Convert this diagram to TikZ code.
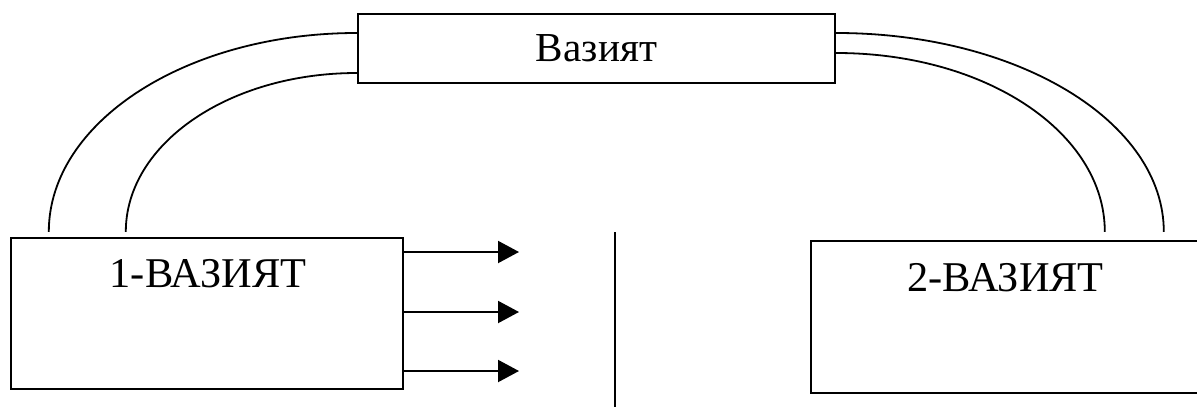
\documentclass[tikz,border=0pt]{standalone}
\usepackage{fontspec}
\setmainfont{Liberation Serif}
\usetikzlibrary{arrows.meta}

\begin{document}
\begin{tikzpicture}[x=0.5pt,y=-0.5pt,
    box/.style={draw,line width=1.2pt,rectangle,inner sep=0pt},
    lbl/.style={anchor=base,inner sep=0pt,font=\fontsize{21.2}{25}\selectfont},
    link/.style={line width=0.9pt},
    arr/.style={line width=1pt,-{Triangle[length=10.5pt,width=11pt]}}]

  \useasboundingbox (0,0) rectangle (1197,407);
  \clip (0,0) rectangle (1197,407);

  \node[box,minimum width=238.5pt,minimum height=34.5pt,font=\fontsize{20.6}{24}\selectfont]
    (top) at (596.5,48.5) {Вазият};
  \node[box,minimum width=196pt,minimum height=75.5pt] (box1) at (207,313.5) {};
  \node[box,minimum width=194.5pt,minimum height=76pt] (box2) at (1005.5,317) {};

  \node[lbl] (t1) at (208,287) {1-ВАЗИЯТ};
  \node[lbl] (t2) at (1005.5,291) {2-ВАЗИЯТ};

  % links from the top box
  \draw[link] ([xshift=19.5pt,yshift=2.5pt]box1.north west)
    .. controls +(0,-110) and +(-170,0) .. ([yshift=7.75pt]top.west);
  \draw[link] ([xshift=58pt,yshift=2.5pt]box1.north west)
    .. controls +(0,-88) and +(-128,0) .. ([yshift=-12.25pt]top.west);
  \draw[link] ([yshift=7.75pt]top.east)
    .. controls +(182,0) and +(0,-110) .. ([xshift=177pt,yshift=4pt]box2.north west);
  \draw[link] ([yshift=-2.25pt]top.east)
    .. controls +(150,0) and +(0,-99) .. ([xshift=147.5pt,yshift=4pt]box2.north west);

  % outputs
  \foreach \y in {252,312,371} {
    \coordinate (out\y) at (519,\y);
    \draw[arr] (box1.east |- out\y) -- (out\y);
  }

  % divider
  \coordinate (d1) at (615,232);
  \coordinate (d2) at (615,407);
  \draw[line width=1pt] (d1) -- (d2);

\end{tikzpicture}
\end{document}
